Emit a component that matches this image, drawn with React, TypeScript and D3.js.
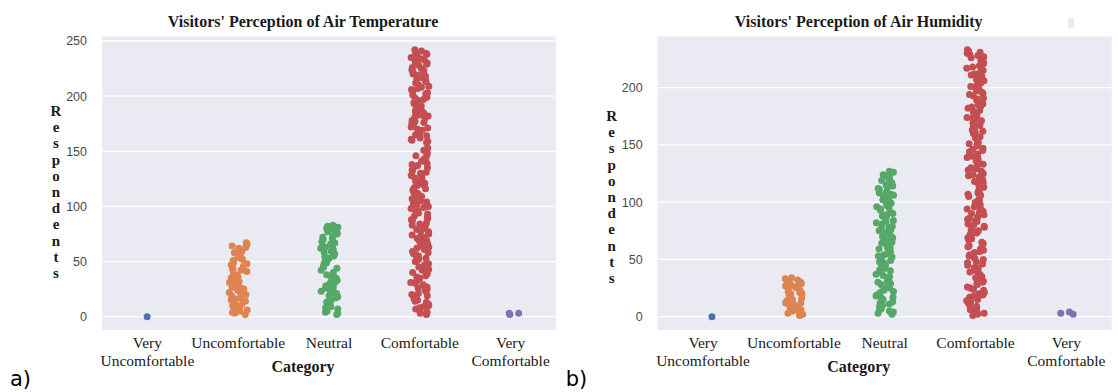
import { useMemo } from "react";
import * as d3 from "d3";

// categories and tick text
const categories = ["VU", "U", "N", "C", "VC"];
const tickLines = [["Very", "Uncomfortable"], ["Uncomfortable"], ["Neutral"], ["Comfortable"], ["Very", "Comfortable"]];
const colors = ["#4c72b0", "#dd8452", "#55a868", "#c44e52", "#8172b3"];

// a) air temperature, respondents per category
const veryUncomfA = [0];
const uncomfA = [2, 3, 4, 5, 6, 8, 9, 10, 11, 12, 14, 15, 16, 17, 19, 20, 21, 22, 24, 25, 26, 27, 29, 30, 31, 32, 33, 35, 36, 37, 38, 39, 41, 42, 43, 44, 46, 47, 48, 49, 51, 52, 53, 54, 55, 57, 58, 59, 60, 62, 63, 64, 65, 66, 67];
const neutralA = [2, 3, 4, 5, 7, 8, 9, 10, 12, 13, 14, 15, 17, 18, 19, 21, 22, 23, 24, 26, 27, 28, 30, 31, 32, 33, 35, 36, 38, 40, 42, 44, 45, 46, 48, 49, 50, 52, 53, 54, 55, 57, 58, 59, 61, 62, 63, 64, 66, 67, 68, 70, 71, 72, 73, 75, 76, 77, 79, 80, 81, 82, 83];
const comfA = [2, 3, 4, 5, 7, 8, 9, 10, 11, 13, 14, 15, 16, 18, 19, 20, 21, 23, 24, 25, 26, 27, 29, 30, 31, 32, 34, 35, 36, 37, 39, 40, 41, 42, 43, 45, 46, 47, 48, 50, 51, 52, 53, 55, 56, 57, 58, 59, 61, 62, 63, 64, 66, 67, 68, 69, 71, 72, 73, 74, 75, 77, 78, 79, 80, 82, 83, 84, 85, 87, 88, 89, 90, 91, 93, 94, 95, 96, 98, 99, 100, 101, 103, 104, 105, 106, 107, 109, 110, 111, 112, 114, 115, 116, 117, 119, 120, 121, 122, 123, 125, 126, 127, 128, 130, 131, 132, 133, 135, 136, 137, 138, 139, 141, 142, 143, 144, 146, 147, 148, 149, 151, 152, 153, 158, 159, 160, 161, 162, 164, 165, 166, 167, 169, 170, 171, 172, 174, 175, 176, 177, 178, 180, 181, 182, 183, 185, 186, 187, 188, 190, 191, 192, 193, 194, 196, 197, 198, 199, 201, 202, 203, 204, 206, 207, 208, 209, 210, 212, 213, 214, 215, 217, 218, 219, 220, 222, 223, 224, 225, 226, 228, 229, 230, 231, 233, 234, 235, 236, 238, 239, 240, 241, 242];
const veryComfA = [2, 3, 3];

// b) air humidity
const veryUncomfB = [0];
const uncomfB = [1, 2, 3, 4, 5, 5, 6, 7, 8, 9, 10, 11, 12, 12, 13, 14, 15, 16, 17, 18, 19, 20, 20, 21, 22, 23, 24, 25, 26, 27, 28, 28, 29, 30, 31, 31, 32, 33, 34];
const neutralB = [2, 3, 4, 5, 6, 7, 9, 10, 11, 12, 13, 15, 16, 17, 18, 19, 21, 22, 23, 24, 25, 27, 28, 29, 30, 31, 33, 34, 35, 36, 37, 39, 40, 41, 42, 43, 45, 46, 47, 48, 49, 51, 52, 53, 54, 55, 57, 58, 59, 60, 61, 63, 64, 65, 66, 67, 69, 70, 71, 72, 73, 75, 76, 77, 78, 79, 81, 82, 83, 84, 85, 87, 88, 89, 90, 91, 93, 94, 95, 96, 97, 99, 100, 101, 102, 103, 105, 106, 107, 108, 109, 111, 112, 113, 114, 115, 117, 118, 119, 120, 121, 123, 124, 125, 126, 127];
const comfB = [1, 2, 3, 4, 6, 7, 8, 9, 10, 12, 13, 14, 15, 17, 18, 19, 20, 21, 23, 24, 25, 26, 28, 29, 30, 31, 32, 34, 35, 36, 37, 39, 40, 41, 42, 43, 45, 46, 47, 48, 50, 51, 52, 53, 54, 56, 57, 58, 59, 61, 62, 63, 64, 65, 67, 68, 69, 70, 72, 73, 74, 75, 76, 78, 79, 80, 81, 83, 84, 85, 86, 87, 89, 90, 91, 92, 94, 95, 96, 97, 98, 100, 101, 102, 103, 105, 106, 107, 108, 109, 111, 112, 113, 114, 116, 117, 118, 119, 120, 122, 123, 124, 125, 127, 128, 129, 130, 131, 133, 134, 135, 136, 138, 139, 140, 141, 142, 144, 145, 146, 147, 149, 150, 151, 152, 153, 155, 156, 157, 158, 160, 161, 162, 163, 164, 166, 167, 168, 169, 171, 172, 173, 174, 175, 177, 178, 179, 180, 182, 183, 184, 185, 186, 188, 189, 190, 191, 193, 194, 195, 196, 197, 199, 200, 201, 202, 204, 205, 206, 207, 208, 210, 211, 212, 213, 215, 216, 217, 218, 219, 221, 222, 223, 224, 226, 227, 228, 229, 230, 231, 232, 233];
const veryComfB = [2, 3, 4];

const serif = "'Liberation Serif', 'DejaVu Serif', serif";
const sans = "'Liberation Sans', Arial, sans-serif";

type PanelProps = {
  groups: number[][];
  title: string;
  tag: string;
  left: number;
  labelTop: number;
  seed: number;
};

const Panel = ({ groups, title, tag, left, labelTop, seed }: PanelProps) => {
  const width = 454;
  const top = 36.5;
  const bottom = 330;

  const x = d3.scaleBand().domain(categories).range([left, left + width]);
  const all = groups.flat();
  const [lo, hi] = d3.extent(all) as [number, number];
  const pad = (hi - lo) * 0.05;
  const y = d3.scaleLinear().domain([lo - pad, hi + pad]).range([bottom, top]);

  // seaborn-like jitter, fixed seed so the picture is stable
  const points = useMemo(() => {
    const rnd = d3.randomUniform.source(d3.randomLcg(seed))(-0.1, 0.1);
    return groups.flatMap((vals, i) =>
      vals.map((v) => ({ cat: categories[i], v, j: rnd(), color: colors[i] }))
    );
  }, [groups, seed]);

  const step = x.step();
  const mid = left + width / 2 - 26;

  return (
    <g>
      <text x={mid} y={27} textAnchor="middle" fontFamily={serif} fontWeight="bold" fontSize={16} fill="#1a1a1a">
        {title}
      </text>
      <rect x={left} y={top} width={width} height={bottom - top} fill="#eaeaf2" />
      {y.ticks(5).map((t) => (
        <g key={t}>
          <line x1={left} x2={left + width} y1={y(t)} y2={y(t)} stroke="#fff" strokeWidth={1.3} />
          <text x={left - 15} y={y(t)} dy="0.35em" textAnchor="end" fontFamily={sans} fontSize={12.5} fill="#4a4a4a">
            {t}
          </text>
        </g>
      ))}
      {points.map((p, i) => (
        <circle key={i} cx={x(p.cat)! + step / 2 + p.j * step} cy={y(p.v)} r={3.5} fill={p.color} />
      ))}
      {categories.map((c, i) => (
        <text key={c} x={x(c)! + step / 2} y={348} textAnchor="middle" fontFamily={serif} fontSize={15.5} fill="#1a1a1a">
          {tickLines[i].map((ln, k) => (
            <tspan key={k} x={x(c)! + step / 2} dy={k === 0 ? 0 : 18}>
              {ln}
            </tspan>
          ))}
        </text>
      ))}
      <text x={mid} y={372} textAnchor="middle" fontFamily={serif} fontWeight="bold" fontSize={16} fill="#1a1a1a">
        Category
      </text>
      {"Respondents".split("").map((ch, k) => (
        <text key={k} x={left - 46} y={labelTop + k * 16.2} textAnchor="middle" fontFamily={serif} fontWeight="bold" fontSize={15} fill="#1a1a1a">
          {ch}
        </text>
      ))}
      <text x={left - 92} y={386} fontFamily="'DejaVu Sans', sans-serif" fontSize={21} fill="#000">
        {tag}
      </text>
    </g>
  );
};

const groupsA = [veryUncomfA, uncomfA, neutralA, comfA, veryComfA];
const groupsB = [veryUncomfB, uncomfB, neutralB, comfB, veryComfB];

export default function App() {
  return (
    <svg width={1118} height={392} style={{ position: "absolute", left: 0, top: 0, background: "#fff" }}>
      <Panel groups={groupsA} title="Visitors' Perception of Air Temperature" tag="a)" left={102} labelTop={116} seed={0.13} />
      <Panel groups={groupsB} title="Visitors' Perception of Air Humidity" tag="b)" left={657.7} labelTop={121} seed={0.71} />
      <rect x={1068} y={18} width={6} height={10} fill="#eaeaf2" />
    </svg>
  );
}
